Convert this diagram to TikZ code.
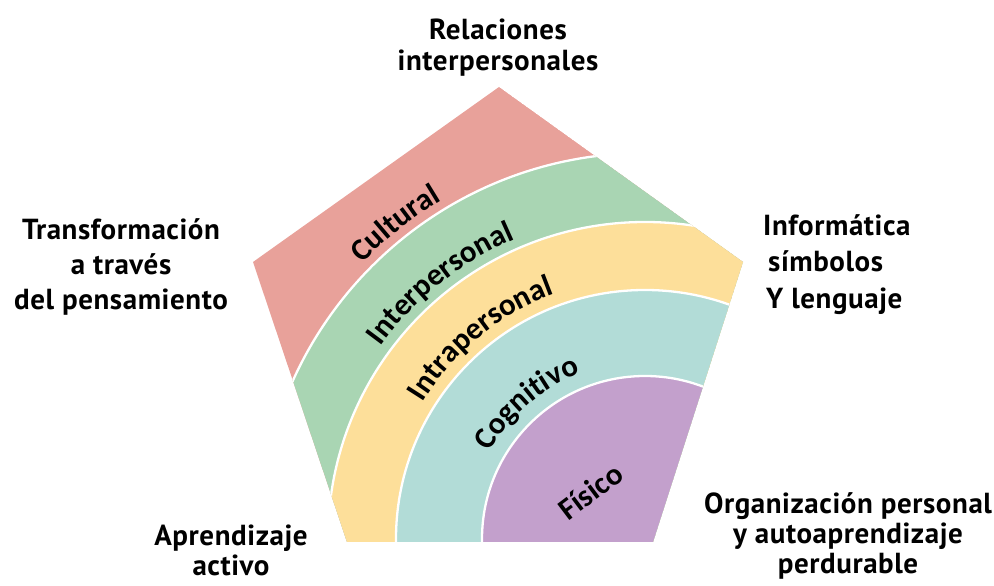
\documentclass[tikz,border=0pt]{standalone}
\usepackage{fontspec}
\usetikzlibrary{decorations.text}
\newfontfamily\labfamily{PT Sans}[LetterSpace=2]
\newfontfamily\bandfamily{Carlito}
\newcommand\bandfont{\bandfamily\bfseries\fontsize{31}{34}\selectfont}
\definecolor{cultural}{HTML}{E8A19A}
\definecolor{interp}{HTML}{A9D5B3}
\definecolor{intra}{HTML}{FDDF9A}
\definecolor{cogn}{HTML}{B2DCD7}
\definecolor{fisico}{HTML}{C3A0CC}
\begin{document}
\begin{tikzpicture}[x=1pt,y=1pt,
  band/.style={draw=white, line width=2.3pt},
  outer/.style={align=center, inner sep=0pt, anchor=north},
  arclabel/.style={decorate, decoration={text along path, text align=center, text={|\bandfont|#1}}}
]
\useasboundingbox (0,0) rectangle (994,586);
% centre of the concentric bands and corners of the pentagon
\coordinate (C) at (645,47);
\coordinate (top) at (499,499);
\coordinate (rt) at (743,324);
\coordinate (br) at (653,44);
\coordinate (bl) at (347,44);
\coordinate (lt) at (253,324);

\begin{scope}
  \clip (top) -- (rt) -- (br) -- (bl) -- (lt) -- cycle;
  \fill[cultural] (top) -- (rt) -- (br) -- (bl) -- (lt) -- cycle;
  \filldraw[fill=interp, band] (C) circle[radius=386];
  \filldraw[fill=intra, band] (C) circle[radius=317];
  \filldraw[fill=cogn, band] (C) circle[radius=249];
  \filldraw[fill=fisico, band] (C) circle[radius=163];
\end{scope}

% band names following the arcs
\path[arclabel=Cultural] (C) ++(158.3:395) arc[start angle=158.3, end angle=98.3, radius=395];
\path[arclabel=Interpersonal] (C) ++(158.7:327) arc[start angle=158.7, end angle=98.7, radius=327];
\path[arclabel=Intrapersonal] (C) ++(159.3:261) arc[start angle=159.3, end angle=99.3, radius=261];
\path[arclabel=Cognitivo] (C) ++(160.9:178) arc[start angle=160.9, end angle=100.9, radius=178];
% the innermost name sits on a straight slanted baseline
\coordinate (fis) at (597,86);
\path[arclabel=Físico] (fis) ++(217:70) -- ++(37:140);

% outer labels
\node[outer, font=\labfamily\bfseries\fontsize{29}{31}\selectfont] (rel) at (498,567) {Relaciones\\interpersonales};
\node[outer, font=\labfamily\bfseries\fontsize{29}{35}\selectfont] (tra) at (121,368) {Transformación\\a través\\del pensamiento};
\node[outer, font=\labfamily\bfseries\fontsize{29}{36.5}\selectfont, align=left, anchor=north west] (inf) at (763,372) {Informática\\\hspace*{5pt}símbolos\\\hspace*{3pt}Y lenguaje};
\node[outer, font=\labfamily\bfseries\fontsize{29}{30}\selectfont] (org) at (848,94) {Organización personal\\y autoaprendizaje\\perdurable};
\node[outer, font=\labfamily\bfseries\fontsize{29}{30}\selectfont] (apr) at (231,61) {Aprendizaje\\activo};
\end{tikzpicture}
\end{document}
